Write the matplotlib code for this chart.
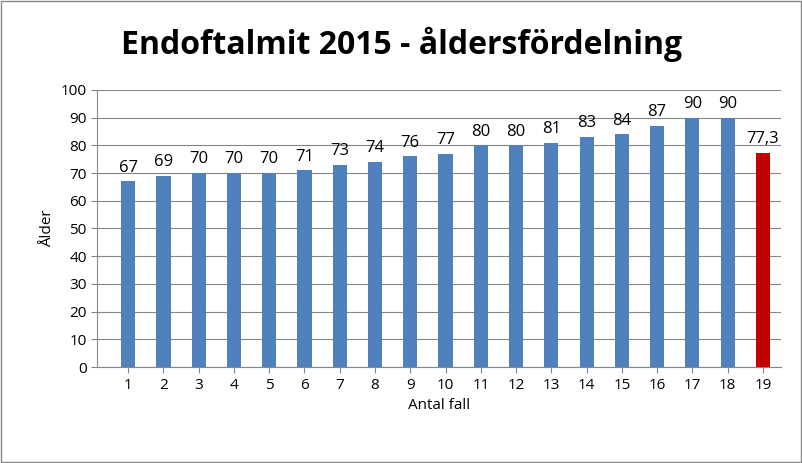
import matplotlib
matplotlib.use("Agg")
import matplotlib.pyplot as plt

categories = [str(i) for i in range(1, 20)]
values = [67, 69, 70, 70, 70, 71, 73, 74, 76, 77, 80, 80, 81, 83, 84, 87, 90, 90, 77.3]
labels = ["67","69","70","70","70","71","73","74","76","77","80","80","81","83","84","87","90","90","77,3"]
colors = ["#4F81BD"] * 18 + ["#C00000"]

plt.rcParams["font.family"] = "Open Sans"
fig = plt.figure(figsize=(8.03, 4.63), dpi=100)
fig.patches.append(plt.Rectangle((0.001, 0.002), 0.997, 0.995, transform=fig.transFigure,
                                 fill=False, edgecolor="#868686", linewidth=1))
ax = fig.add_axes([0.121, 0.207, 0.851, 0.599])
x = range(len(categories))
ax.bar(x, values, width=0.4, color=colors, zorder=3)
for xi, v, l in zip(x, values, labels):
    ax.text(xi, v + 2, l, ha="center", va="bottom", fontsize=12)
ax.set_xlim(-0.88, len(categories) - 0.5)
ax.set_ylim(0, 100)
ax.set_yticks(range(0, 101, 10))
ax.set_xticks(list(x))
ax.set_xticklabels(categories)
ax.tick_params(labelsize=11, length=4, color="#868686")
ax.yaxis.grid(True, color="#868686", linewidth=0.8, zorder=0)
for s in ["top", "right"]:
    ax.spines[s].set_visible(False)
for s in ["left", "bottom"]:
    ax.spines[s].set_color("#868686")
ax.set_xlabel("Antal fall", fontsize=11)
ax.set_ylabel("Ålder", fontsize=11)
fig.text(0.5, 0.905, "Endoftalmit 2015 - åldersfördelning", ha="center", va="center",
         fontsize=23, fontweight="bold")
fig.savefig("out.png", dpi=100)
